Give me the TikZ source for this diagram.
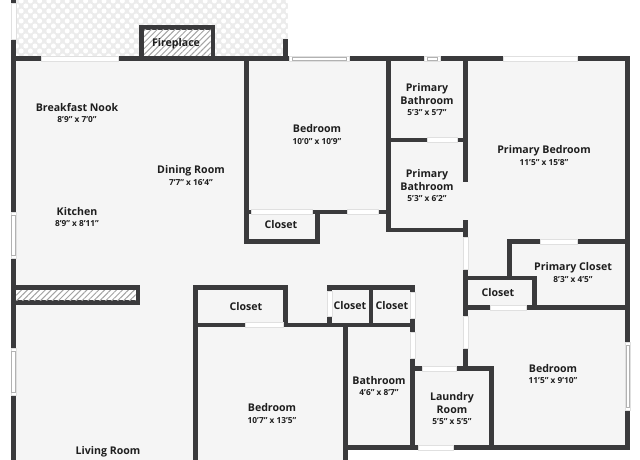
\documentclass[tikz,border=0pt]{standalone}
\usepackage{fontspec}
\setmainfont{Open Sans}
\usetikzlibrary{patterns.meta}
\definecolor{WallGray}{RGB}{58,58,60}
\definecolor{FloorGray}{RGB}{245,245,245}
\definecolor{PatioGray}{RGB}{236,236,236}
\definecolor{LabelInk}{RGB}{30,30,30}
\newcommand{\dimsize}[1]{{\fontsize{8.3}{10.5}\selectfont #1}}

\begin{document}
\begin{tikzpicture}[x=1pt,y=-1pt,
    wall/.style={draw=WallGray,line width=4.7pt,line cap=rect,line join=miter},
    doorgap/.style={fill=white,draw=black!12,line width=.4pt},
    wingap/.style={fill=white,draw=black!30,line width=.6pt},
    hatch/.style={preaction={fill=white},pattern={Lines[angle=45,distance=4.2pt,line width=1pt]},pattern color=black!36},
    room/.style={font=\bfseries\fontsize{10.6}{13.2}\selectfont,text=LabelInk,align=center,inner sep=0pt}]
  \useasboundingbox (0,0) rectangle (640,460);
  \fill[white] (0,0) rectangle (640,460);

  % Floor and patio
  \fill[FloorGray] (13,58) -- (628,58) -- (628,447) -- (346,447) -- (346,460) -- (13,460) -- cycle;
  \begin{scope}
    \clip (16,0) rectangle (288,56);
    \fill[PatioGray] (16,0) rectangle (288,56);
    \foreach \row in {0,...,11} {
      \pgfmathsetmacro{\shift}{mod(\row,2)*4.6}
      \foreach \col in {0,...,31} {
        \fill[white] (12+\shift+9.2*\col,1+5*\row) circle (2.5);
      }
    }
  \end{scope}

  % Outer walls
  \draw[wall] (13.3,-3) -- (13.3,1);
  \draw[wall] (13.3,460) -- (13.3,41.5) ;
  \draw[wall] (13.3,58.5) -- (627.7,58.5) -- (627.7,447.5) -- (345.7,447.5);
  \draw[wall] (285.5,41) -- (285.5,58.5);

  % Fireplace
  \draw[wall] (141.5,58) -- (141.5,27.5) -- (212.7,27.5) -- (212.7,58);
  \fill[hatch] (144,30) rectangle (210.5,56);

  % Counter
  \fill[WallGray] (15,285) rectangle (140,305);
  \fill[hatch] (16,290) rectangle (135.5,300);

  % Inner walls, top half
  \draw[wall] (246.7,58.5) -- (246.7,241.5) -- (317.5,241.5) -- (317.5,212);
  \draw[wall] (246.7,212) -- (388.5,212);
  \draw[wall] (388.5,58.5) -- (388.5,230) -- (465.5,230);
  \draw[wall] (388.5,140) -- (465.5,140);
  \draw[wall] (465.5,58.5) -- (465.5,180);
  \draw[wall] (465.5,222) -- (465.5,368.5);

  % Closets on the right
  \draw[wall] (627.7,241.5) -- (509.5,241.5) -- (509.5,278);
  \draw[wall] (465.5,278) -- (534.5,278) -- (534.5,307.5);
  \draw[wall] (465.5,307.5) -- (627.7,307.5);

  % Inner walls, bottom half
  \draw[wall] (195.5,460) -- (195.5,287.5) -- (285.5,287.5) -- (285.5,325);
  \draw[wall] (195.5,325) -- (412.5,325);
  \draw[wall] (345.7,325) -- (345.7,460);
  \draw[wall] (329.5,325) -- (329.5,287.5) -- (412.5,287.5) -- (412.5,447.5);
  \draw[wall] (371,287.5) -- (371,325);
  \draw[wall] (412.5,368.5) -- (491.5,368.5) -- (491.5,447.5);

  % Door gaps, horizontal walls
  \foreach \xa/\xb/\yy in {41/118/58.5,503/577/58.5,251/312/212,347/378/212,427/457/140,540/577/241.5,490/526/307.5,245/283/325,422/456/368.5,418/453/447.5} {
    \filldraw[doorgap] (\xa,\yy-2.4) rectangle (\xb,\yy+2.4);
  }
  % Door gaps, vertical walls
  \foreach \ya/\yb/\xx in {3/39/13.3,237/269/465.5,316/348/465.5,292/318/412.5,332/358/412.5,291/316/329.5} {
    \filldraw[doorgap] (\xx-2.4,\ya) rectangle (\xx+2.4,\yb);
  }
  % Windows, horizontal walls
  \foreach \xa/\xb/\yy in {289/349/58.5,424/440/58.5} {
    \filldraw[doorgap] (\xa,\yy-2.4) rectangle (\xb,\yy+2.4);
    \filldraw[wingap] (\xa+3,\yy-1.6) rectangle (\xb-3,\yy+1.6);
  }
  % Windows, vertical walls
  \foreach \ya/\yb/\xx in {212/258/13.3,348/395/13.3,342/410/627.7} {
    \filldraw[doorgap] (\xx-2.4,\ya) rectangle (\xx+2.4,\yb);
    \filldraw[wingap] (\xx-1.6,\ya+3) rectangle (\xx+1.6,\yb-3);
  }

  % Room labels
  \node[room] (fireplace) at (176,43.5) {Fireplace};
  \node[room] (nook) at (77,113) {Breakfast Nook\\[-1.5pt]\dimsize{8'9" x 7'0"}};
  \node[room] (dining) at (191,175.5) {Dining Room\\[-1.5pt]\dimsize{7'7" x 16'4"}};
  \node[room] (kitchen) at (77,217) {Kitchen\\[-1.5pt]\dimsize{8'9" x 8'11"}};
  \node[room] (bedroomA) at (317,134.5) {Bedroom\\[-1.5pt]\dimsize{10'0" x 10'9"}};
  \node[room] (closetA) at (281,224.5) {Closet};
  \node[room] (bathA) at (427,99.5) {Primary\\Bathroom\\[-1.5pt]\dimsize{5'3" x 5'7"}};
  \node[room] (bathB) at (427,185.5) {Primary\\Bathroom\\[-1.5pt]\dimsize{5'3" x 6'2"}};
  \node[room] (primary) at (544,155.5) {Primary Bedroom\\[-1.5pt]\dimsize{11'5" x 15'8"}};
  \node[room] (primaryCloset) at (573,272.5) {Primary Closet\\[-1.5pt]\dimsize{8'3" x 4'5"}};
  \node[room] (closetB) at (498,292.5) {Closet};
  \node[room] (closetC) at (246,306.5) {Closet};
  \node[room] (closetD) at (350,305.5) {Closet};
  \node[room] (closetE) at (392,305.5) {Closet};
  \node[room] (bath) at (379,386) {Bathroom\\[-1.5pt]\dimsize{4'6" x 8'7"}};
  \node[room] (bedroomB) at (553,374) {Bedroom\\[-1.5pt]\dimsize{11'5" x 9'10"}};
  \node[room] (laundry) at (452,408.5) {Laundry\\Room\\[-1.5pt]\dimsize{5'5" x 5'5"}};
  \node[room] (bedroomC) at (272,413.5) {Bedroom\\[-1.5pt]\dimsize{10'7" x 13'5"}};
  \node[room,anchor=center] (living) at (108,452) {Living Room};
\end{tikzpicture}
\end{document}
